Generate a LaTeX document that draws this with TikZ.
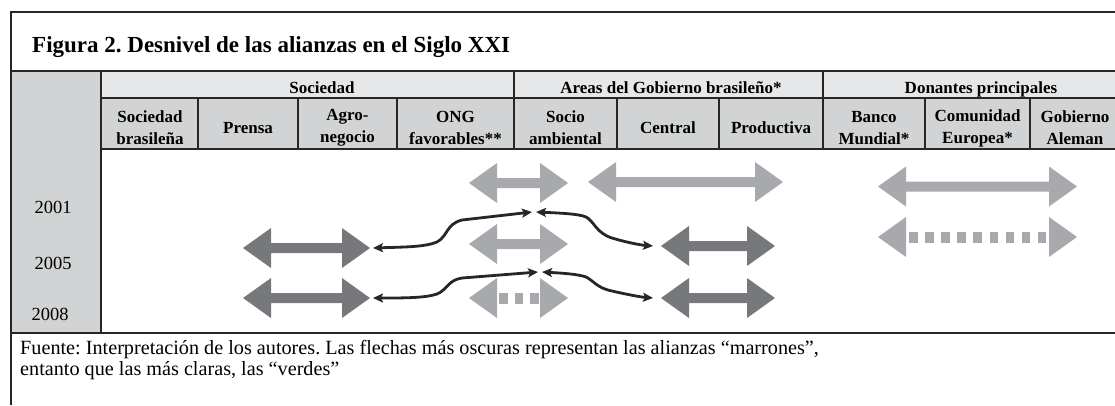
\documentclass[tikz,border=0pt]{standalone}
\usepackage{fontspec}
\setmainfont{Liberation Serif}
\usetikzlibrary{arrows.meta}
\frenchspacing
%
\definecolor{claro}{HTML}{A7A9AC}
\definecolor{oscuro}{HTML}{77787B}
\definecolor{celda}{HTML}{D1D3D4}
\definecolor{celdaclara}{HTML}{E6E7E8}
\definecolor{trazo}{HTML}{262626}
%
\tikzset{
  titulo/.style={font=\bfseries\fontsize{23}{26}\selectfont, inner sep=0pt},
  cab/.style={font=\bfseries\fontsize{17}{22}\selectfont, inner sep=0pt, align=center},
  anio/.style={font=\fontsize{18.5}{20}\selectfont, inner sep=0pt},
  nota/.style={font=\fontsize{20.2}{21}\selectfont, inner sep=0pt},
  enlace/.style={line width=2.8pt, trazo,
    {Stealth[length=10pt,width=9pt,inset=2pt]}-{Stealth[length=10pt,width=9pt,inset=2pt]}},
}
%
% Flecha doble: nombre, punta izq., punta der., altura, color
\newcommand\alianza[5]{%
  \fill[#5] (#2,#4) -- ({#2+28},{#4-20}) -- ({#2+28},{#4-5})
     -- ({#3-28},{#4-5}) -- ({#3-28},{#4-20}) -- (#3,#4)
     -- ({#3-28},{#4+20}) -- ({#3-28},{#4+5})
     -- ({#2+28},{#4+5}) -- ({#2+28},{#4+20}) -- cycle;
  \coordinate (#1w) at (#2,#4);
  \coordinate (#1e) at (#3,#4);
}
% Flecha doble punteada: idem + lista de cuadritos
\newcommand\alianzapunt[6]{%
  \fill[#5] (#2,#4) -- ({#2+28},{#4-20}) -- ({#2+28},{#4+20}) -- cycle;
  \fill[#5] (#3,#4) -- ({#3-28},{#4-20}) -- ({#3-28},{#4+20}) -- cycle;
  \foreach \sx in {#6} \fill[#5] (\sx,{#4-5.5}) rectangle ++(8.5,11);
  \coordinate (#1w) at (#2,#4);
  \coordinate (#1e) at (#3,#4);
}
%
\begin{document}
\begin{tikzpicture}[x=1pt,y=-1pt]
\useasboundingbox (0,0) rectangle (1115,405);
%
% Fondos
\fill[celda]      (11,71)  rectangle (101,333);
\fill[celdaclara] (101,71) rectangle (1117,98);
\fill[celda]      (101,98) rectangle (1117,149);
%
% Marco
\draw[trazo, line width=2pt]   (11,11.5) -- (1115,11.5);
\draw[trazo, line width=1.5pt] (11,11)   -- (11,405);
\draw[trazo, line width=2pt]   (11,71)   -- (1115,71);
\draw[trazo, line width=2pt]   (11,333)  -- (1115,333);
%
% Cuadricula de la tabla
\draw[trazo, line width=1.2pt] (101,98)  -- (1115,98);
\draw[trazo, line width=1.2pt] (101,149) -- (1115,149);
\draw[trazo, line width=1.2pt] (101,71)  -- (101,333);
\foreach \x in {514,823} \draw[trazo, line width=1.2pt] (\x,71) -- (\x,98);
\foreach \x in {198,298,397,514,617,719,823,925,1030}
  \draw[trazo, line width=1.2pt] (\x,98) -- (\x,149);
%
% Titulo
\node[titulo, anchor=base west] (tit) at (32,52)
  {Figura 2. Desnivel de las alianzas en el Siglo XXI};
%
% Encabezados
\node[cab, anchor=base] (hsoc) at (322,93)   {Sociedad};
\node[cab, anchor=base] (hgob) at (671,93)   {Areas del Gobierno brasileño*};
\node[cab, anchor=base] (hdon) at (981,93)   {Donantes principales};
%
\node[cab] (csocbr)   at (150,128)   {Sociedad\\brasileña};
\node[cab, anchor=base] (cprensa) at (248,133) {Prensa};
\node[cab] (cagro)    at (347.5,128) {Agro-\\negocio};
\node[cab] (cong)     at (455.5,128) {ONG\\favorables**};
\node[cab] (csocio)   at (565.5,128) {Socio\\ambiental};
\node[cab, anchor=base] (ccentral) at (668,133) {Central};
\node[cab, anchor=base] (cprod)    at (771,133) {Productiva};
\node[cab] (cbanco)   at (874,128)   {Banco\\Mundial*};
\node[cab] (ccom)     at (977.5,128) {Comunidad\\Europea*};
\node[cab] (cale)     at (1075,128)  {Gobierno\\Aleman};
%
% Años
\node[anio, anchor=base] (a2001) at (53,213) {2001};
\node[anio, anchor=base] (a2005) at (53,269) {2005};
\node[anio, anchor=base] (a2008) at (50,320) {2008};
%
% Alianzas 2001
\alianza{ong01}{469}{568}{183}{claro}
\alianza{cen01}{588}{783}{182}{claro}
\alianza{don01}{878}{1077}{186.5}{claro}
%
% Alianzas 2005
\alianza{soc05}{243}{370}{248}{oscuro}
\alianza{ong05}{469}{568}{244}{claro}
\alianza{pro05}{661}{775}{246}{oscuro}
\alianzapunt{don05}{878}{1077}{237}{claro}{909,925.1,...,1040}
%
% Alianzas 2008
\alianza{soc08}{243}{370}{298}{oscuro}
\alianzapunt{ong08}{469}{568}{298}{claro}{499,514.5,530}
\alianza{pro08}{661}{775}{298}{oscuro}
%
% Puntos de encuentro
\coordinate (j05a) at (532,212);
\coordinate (j05b) at (536,212);
\coordinate (j08a) at (538,272);
\coordinate (j08b) at (542,272);
%
% Enlaces
\draw[enlace] ([xshift=3pt]soc05e) .. controls (405,247) and (425,247) .. (437,242)
   .. controls (448,236) and (446,224) .. (462,220) -- (j05a);
\draw[enlace] (j05b) .. controls (560,213) and (580,214) .. (586,217)
   .. controls (594,221) and (596,233) .. (612,238)
   .. controls (625,242) and (640,245) .. ([xshift=-8pt]pro05w);
\draw[enlace] ([xshift=3pt]soc08e) .. controls (405,298) and (425,298) .. (437,294)
   .. controls (447,290) and (448,280) .. (462,278) -- (j08a);
\draw[enlace] (j08b) .. controls (560,273) and (578,274) .. (586,277)
   .. controls (594,281) and (597,288) .. (612,291)
   .. controls (625,294) and (640,297) .. ([xshift=-8pt]pro08w);
%
% Fuente
\node[nota, anchor=base west] (fue1) at (20,354)
  {Fuente: Interpretación de los autores. Las flechas más oscuras representan las alianzas “marrones”,};
\node[nota, anchor=base west] (fue2) at (20,375)
  {entanto que las más claras, las “verdes”};
%
\end{tikzpicture}
\end{document}
